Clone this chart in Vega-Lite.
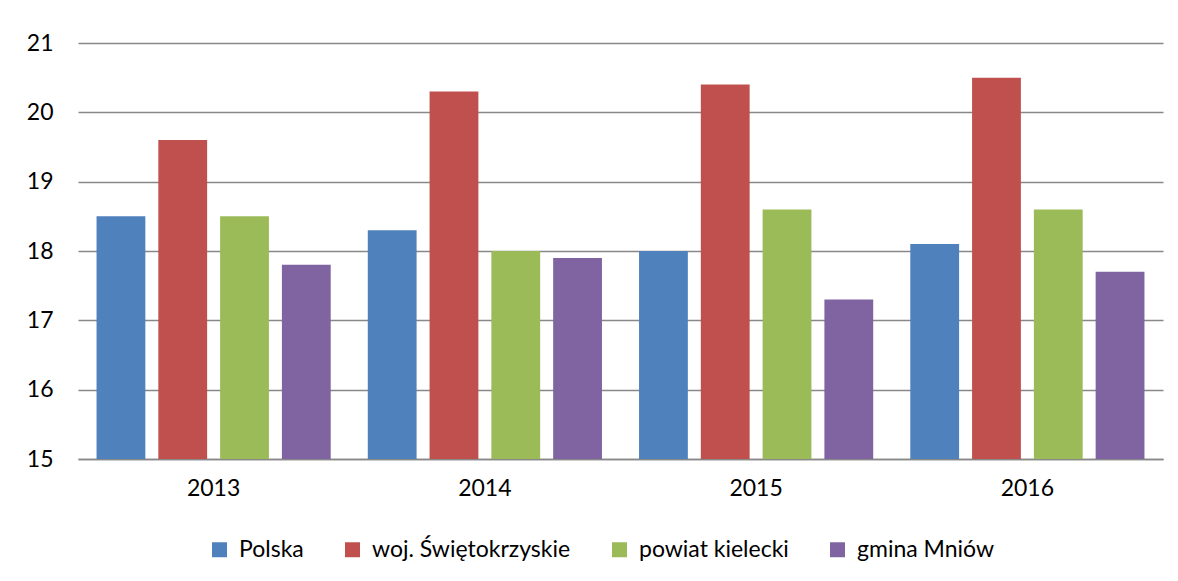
{
  "$schema": "https://vega.github.io/schema/vega-lite/v6.json",
  "autosize": {"type": "none"},
  "width": 1085,
  "height": 416,
  "padding": {"left": 78, "top": 43, "right": 15, "bottom": 122},
  "background": "white",
  "data": {
    "values": [
      {"year": "2013", "series": "Polska", "value": 18.5},
      {"year": "2013", "series": "woj. Świętokrzyskie", "value": 19.6},
      {"year": "2013", "series": "powiat kielecki", "value": 18.5},
      {"year": "2013", "series": "gmina Mniów", "value": 17.8},
      {"year": "2014", "series": "Polska", "value": 18.3},
      {"year": "2014", "series": "woj. Świętokrzyskie", "value": 20.3},
      {"year": "2014", "series": "powiat kielecki", "value": 18.0},
      {"year": "2014", "series": "gmina Mniów", "value": 17.9},
      {"year": "2015", "series": "Polska", "value": 18.0},
      {"year": "2015", "series": "woj. Świętokrzyskie", "value": 20.4},
      {"year": "2015", "series": "powiat kielecki", "value": 18.6},
      {"year": "2015", "series": "gmina Mniów", "value": 17.3},
      {"year": "2016", "series": "Polska", "value": 18.1},
      {"year": "2016", "series": "woj. Świętokrzyskie", "value": 20.5},
      {"year": "2016", "series": "powiat kielecki", "value": 18.6},
      {"year": "2016", "series": "gmina Mniów", "value": 17.7}
    ]
  },
  "mark": {"type": "bar", "clip": true},
  "encoding": {
    "x": {
      "field": "year", "type": "nominal",
      "scale": {"paddingInner": 0, "paddingOuter": 0},
      "axis": {"title": null, "labelAngle": 0, "ticks": false, "domain": true, "domainColor": "#888888", "domainWidth": 1.5, "labelFontSize": 23, "labelFont": "Lato", "labelColor": "#000000", "labelPadding": 18, "grid": false}
    },
    "xOffset": {
      "field": "series", "type": "nominal",
      "sort": ["Polska", "woj. Świętokrzyskie", "powiat kielecki", "gmina Mniów"],
      "scale": {"paddingInner": 0.21, "paddingOuter": 0.3}
    },
    "y": {
      "field": "value", "type": "quantitative",
      "scale": {"domain": [15, 21], "zero": false, "nice": false},
      "axis": {"title": null, "values": [15, 16, 17, 18, 19, 20, 21], "labelOverlap": false, "ticks": false, "domain": false, "grid": true, "gridColor": "#888888", "gridWidth": 1.5, "labelFontSize": 23, "labelFont": "Lato", "labelColor": "#000000", "labelPadding": 25}
    },
    "color": {
      "field": "series", "type": "nominal",
      "sort": ["Polska", "woj. Świętokrzyskie", "powiat kielecki", "gmina Mniów"],
      "scale": {"domain": ["Polska", "woj. Świętokrzyskie", "powiat kielecki", "gmina Mniów"], "range": ["#4F81BD", "#C0504D", "#9BBB59", "#8064A2"]},
      "legend": {"title": null, "orient": "none", "legendX": 130, "legendY": 495, "direction": "horizontal", "columns": 4, "symbolType": "square", "symbolSize": 225, "symbolStrokeWidth": 0, "labelFontSize": 23, "labelFont": "Lato", "labelColor": "#000000", "labelOffset": 8, "labelLimit": 0, "columnPadding": 37}
    }
  },
  "config": {"view": {"stroke": null}}
}
